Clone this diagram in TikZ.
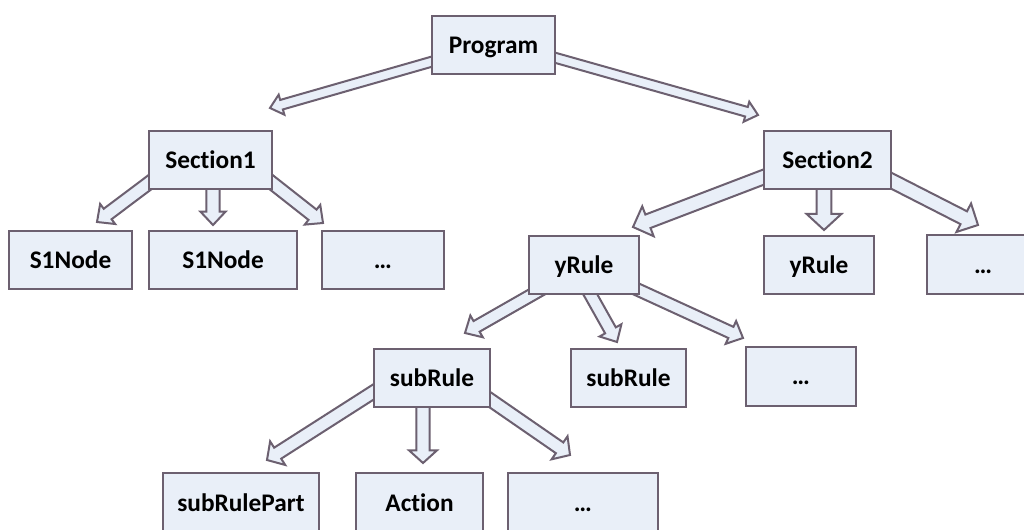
\documentclass[tikz,border=0pt]{standalone}
\usepackage{fontspec}
\setmainfont[Ligatures={NoCommon}]{Carlito}
\usetikzlibrary{calc,backgrounds}
\definecolor{bd}{RGB}{108,96,112}
\definecolor{fl}{RGB}{233,239,248}
\tikzset{
  box/.style 2 args={draw=bd, fill=fl, line width=1.5pt, inner sep=0pt,
    minimum width=#1*0.75pt, minimum height=#2*0.75pt,
    text height=12.2pt, text depth=0pt,
    font=\fontsize{19}{22}\selectfont\bfseries, text=black},
  blk/.style={draw=bd, fill=fl, line width=1.5pt, line join=miter}
}
% \barrow{shaft half}{head half}{head length}{start}{tip}
\newcommand\barrow[5]{%
  \path[blk] let \p1=($(#5)-(#4)$), \n1={atan2(\y1,\x1)} in
    ($(#4)+(\n1+90:#1)$) -- ($(#5)+(\n1:-#3)+(\n1+90:#1)$) --
    ($(#5)+(\n1:-#3)+(\n1+90:#2)$) -- (#5) --
    ($(#5)+(\n1:-#3)+(\n1-90:#2)$) -- ($(#5)+(\n1:-#3)+(\n1-90:#1)$) --
    ($(#4)+(\n1-90:#1)$) -- cycle;}
\begin{document}
\begin{tikzpicture}[x=0.75pt,y=-0.75pt]
\clip (0,0) rectangle (1024,530);
\useasboundingbox (0,0) rectangle (1024,530);
% nodes
\node[box={123}{58}] (prog) at (493.5,45) {Program};
\node[box={123}{58}] (s1) at (210.5,160) {Section1};
\node[box={127}{58}] (s2) at (827.5,160) {Section2};
\node[box={123}{58}] (n1) at (70.5,260) {S1Node};
\node[box={148}{58}] (n2) at (223,260) {S1Node};
\node[box={122}{58}] (n3) at (383,260) {…};
\node[box={110}{58}] (yrL) at (584,265) {yRule};
\node[box={110}{58}] (yrR) at (819,265) {yRule};
\node[box={112}{59}] (dR) at (983,265) {…};
\node[box={116}{58}] (srL) at (432,378) {subRule};
\node[box={115}{58}] (srM) at (628.5,378) {subRule};
\node[box={110}{59}] (dM) at (801,376.5) {…};
\node[box={156}{60}] (srp) at (241,503) {subRulePart};
\node[box={127}{60}] (act) at (419.5,503) {Action};
\node[box={150}{60}] (dB) at (583,503) {…};
% arrow tips
\coordinate (tA) at (270,108);
\coordinate (tB) at (758,115);
\coordinate (tC) at (97,222);
\coordinate (tD) at (213,225);
\coordinate (tE) at (323,223);
\coordinate (tF) at (633,227);
\coordinate (tG) at (824,230);
\coordinate (tH) at (978,225);
\coordinate (tI) at (465,333);
\coordinate (tJ) at (617,342);
\coordinate (tK) at (743,338);
\coordinate (tL) at (267,460);
\coordinate (tM) at (423,463);
\coordinate (tN) at (570,455);
\begin{scope}[on background layer]
\fill[white] (0,0) rectangle (1024,530);
\barrow{3.7pt}{7.8pt}{9pt}{$(prog)+(-28,7)$}{tA}
\barrow{3.7pt}{7.8pt}{9pt}{$(prog)+(27,3)$}{tB}
\barrow{4.9pt}{9.4pt}{10pt}{$(s1)+(-35,3)$}{tC}
\barrow{4.9pt}{9.4pt}{10pt}{$(s1)+(2.5,10)$}{tD}
\barrow{4.9pt}{9.4pt}{10pt}{$(s1)+(35,2)$}{tE}
\barrow{5.4pt}{12pt}{12pt}{$(s2)+(-27,3)$}{tF}
\barrow{5.6pt}{13pt}{12pt}{$(s2)+(-3.5,10)$}{tG}
\barrow{5.4pt}{12pt}{12pt}{$(s2)+(33,5)$}{tH}
\barrow{4.6pt}{9.4pt}{10pt}{yrL}{tI}
\barrow{4.6pt}{9.4pt}{10pt}{$(yrL)+(1,20)$}{tJ}
\barrow{4.6pt}{9.4pt}{10pt}{yrL}{tK}
\barrow{4.9pt}{10.5pt}{9.5pt}{$(srL)+(-32,-3)$}{tL}
\barrow{4.9pt}{10.5pt}{9.5pt}{$(srL)+(-9,10)$}{tM}
\barrow{4.9pt}{10.5pt}{9.5pt}{$(srL)+(28,1)$}{tN}
\end{scope}
\end{tikzpicture}
\end{document}
